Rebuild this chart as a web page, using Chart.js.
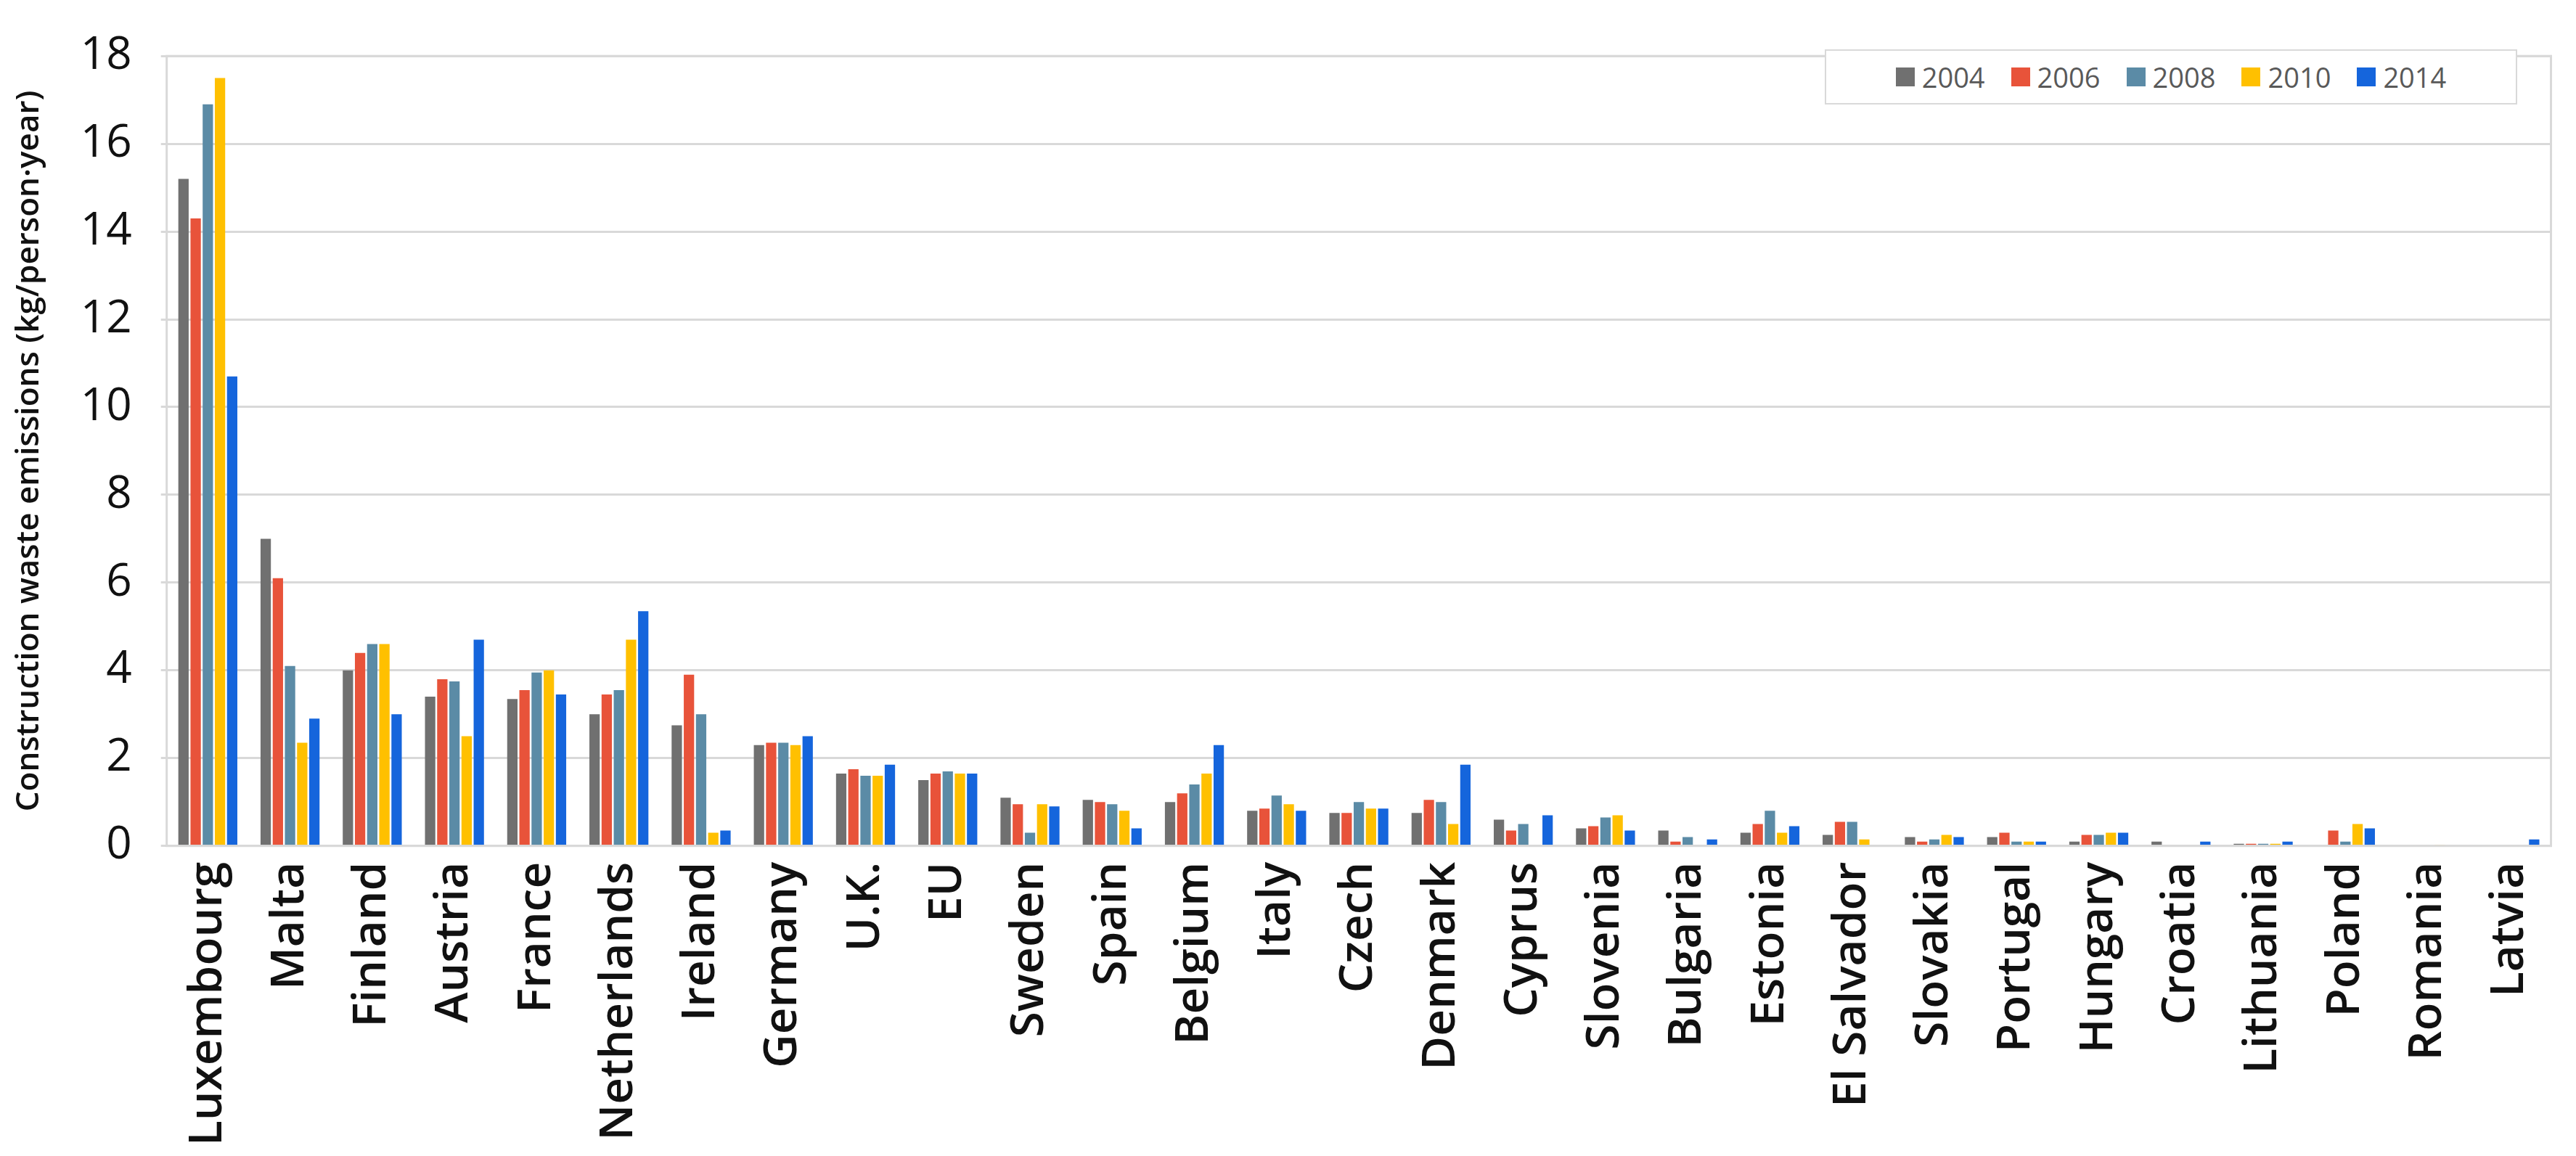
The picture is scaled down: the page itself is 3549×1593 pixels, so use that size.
<!DOCTYPE html>
<html>
<head>
<meta charset="utf-8">
<script src="https://cdn.jsdelivr.net/npm/chart.js@4"></script>
<style>
  body { margin: 0; background: #fff; }
  #wrap { position: relative; width: 3549px; height: 1593px; }
  #legend { position: absolute; left: 2514px; top: 68px; width: 950px; height: 72px;
    border: 2px solid #d9d9d9; display: flex; align-items: center; justify-content: center;
    font-family: "Open Sans", sans-serif; font-size: 38px; color: #595959; background: #fff; }
  #legend span.item { display: flex; align-items: center; margin: 0 18px; }
  #legend i { display: inline-block; width: 26px; height: 26px; margin-right: 10px; }
</style>
</head>
<body>
<div id="wrap">
  <canvas id="c" width="3549" height="1593"></canvas>
  <div id="legend"></div>
</div>
<script>
const countries = ['Luxembourg','Malta','Finland','Austria','France','Netherlands','Ireland','Germany','U.K.','EU',
  'Sweden','Spain','Belgium','Italy','Czech','Denmark','Cyprus','Slovenia','Bulgaria','Estonia',
  'El Salvador','Slovakia','Portugal','Hungary','Croatia','Lithuania','Poland','Romania','Latvia'];
const years = ['2004','2006','2008','2010','2014'];
const colors = ['#707070','#e8533a','#5b8ba6','#ffc000','#1565dc'];

const v2004 = [15.2,7.0,4.0,3.4,3.35,3.0,2.75,2.3,1.65,1.5,1.1,1.05,1.0,0.8,0.75,0.75,0.6,0.4,0.35,0.3,0.25,0.2,0.2,0.1,0.1,0.05,0,0,0];
const v2006 = [14.3,6.1,4.4,3.8,3.55,3.45,3.9,2.35,1.75,1.65,0.95,1.0,1.2,0.85,0.75,1.05,0.35,0.45,0.1,0.5,0.55,0.1,0.3,0.25,0,0.05,0.35,0,0];
const v2008 = [16.9,4.1,4.6,3.75,3.95,3.55,3.0,2.35,1.6,1.7,0.3,0.95,1.4,1.15,1.0,1.0,0.5,0.65,0.2,0.8,0.55,0.15,0.1,0.25,0,0.05,0.1,0,0];
const v2010 = [17.5,2.35,4.6,2.5,4.0,4.7,0.3,2.3,1.6,1.65,0.95,0.8,1.65,0.95,0.85,0.5,0,0.7,0,0.3,0.15,0.25,0.1,0.3,0,0.05,0.5,0.02,0];
const v2014 = [10.7,2.9,3.0,4.7,3.45,5.35,0.35,2.5,1.85,1.65,0.9,0.4,2.3,0.8,0.85,1.85,0.7,0.35,0.15,0.45,0,0.2,0.1,0.3,0.1,0.1,0.4,0,0.15];
const series = [v2004, v2006, v2008, v2010, v2014];

const legend = document.getElementById('legend');
years.forEach((y, i) => {
  legend.innerHTML += '<span class="item"><i style="background:' + colors[i] + '"></i>' + y + '</span>';
});

new Chart(document.getElementById('c'), {
  type: 'bar',
  data: {
    labels: countries,
    datasets: series.map((d, i) => ({ label: years[i], data: d, backgroundColor: colors[i] }))
  },
  options: {
    responsive: false,
    animation: false,
    devicePixelRatio: 1,
    layout: { padding: { top: 40, right: 20, left: 10 } },
    plugins: { legend: { display: false }, tooltip: { enabled: false } },
    datasets: { bar: { categoryPercentage: 0.74, barPercentage: 0.85 } },
    scales: {
      x: {
        grid: { display: false },
        border: { color: '#d0d0d0', width: 3 },
        ticks: { maxRotation: 90, minRotation: 90, color: '#111', padding: 14,
          font: { family: 'Open Sans', size: 64, weight: '600' } }
      },
      y: {
        min: 0, max: 18,
        ticks: { stepSize: 2, color: '#111', padding: 40, font: { family: 'Open Sans', size: 62 } },
        grid: { color: '#d9d9d9', lineWidth: 3 },
        border: { display: false },
        title: { display: true, text: 'Construction waste emissions (kg/person\u00b7year)',
          color: '#111', font: { family: 'Open Sans', size: 44, weight: '600' } }
      }
    }
  },
  plugins: [{
    id: 'frame',
    afterDraw(chart) {
      const { ctx, chartArea: a } = chart;
      ctx.save();
      ctx.strokeStyle = '#d9d9d9';
      ctx.lineWidth = 3;
      ctx.strokeRect(a.left, a.top, a.right - a.left, a.bottom - a.top);
      ctx.restore();
    }
  }]
});
</script>
</body>
</html>
